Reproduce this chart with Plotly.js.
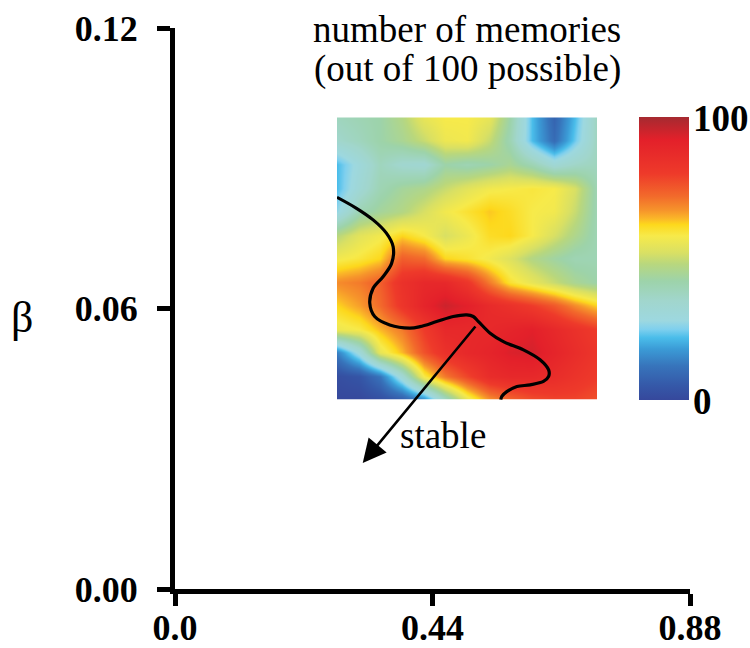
<!DOCTYPE html>
<html><head><meta charset="utf-8">
<script src="https://cdn.plot.ly/plotly-3.0.1.min.js"></script>
<style>html,body{margin:0;padding:0;background:#fff}#chart{width:750px;height:648px}</style>
</head><body><div id="chart"></div>
<script>
// main axes ticks
const xTickVals = [0, 0.44, 0.88];
const xTickText = ['0.0', '0.44', '0.88'];
const yTickVals = [0, 0.06, 0.12];
const yTickText = ['0.00', '0.06', '0.12'];

// inset heatmap grid (u: left->right, v: top->bottom, both 0..1)
const gridU = [0, 0.083, 0.167, 0.25, 0.333, 0.417, 0.5, 0.583, 0.667, 0.75, 0.833, 0.917, 1];
const gridV = [0, 0.083, 0.167, 0.25, 0.333, 0.417, 0.5, 0.583, 0.667, 0.75, 0.833, 0.917, 1];
const memories = [
  [38, 40, 42, 47, 55, 58, 58, 55, 42, 22, 8, 22, 38],
  [35, 38, 42, 45, 50, 56, 57, 50, 40, 22, 10, 24, 38],
  [22, 30, 38, 34, 33, 42, 40, 42, 45, 40, 32, 36, 38],
  [22, 32, 40, 44, 46, 50, 54, 57, 58, 59, 58, 52, 40],
  [27, 40, 44, 47, 52, 57, 60, 63, 61, 58, 57, 50, 40],
  [48, 54, 57, 62, 58, 52, 56, 61, 62, 58, 52, 46, 40],
  [57, 59, 62, 74, 72, 62, 60, 57, 53, 47, 43, 40, 40],
  [68, 70, 74, 84, 88, 88, 82, 70, 60, 55, 50, 45, 42],
  [62, 66, 72, 82, 90, 95, 92, 87, 84, 80, 75, 68, 62],
  [56, 58, 64, 70, 80, 88, 88, 88, 90, 92, 88, 84, 80],
  [14, 30, 55, 64, 76, 84, 88, 90, 93, 94, 90, 86, 82],
  [2, 4, 12, 32, 58, 70, 78, 86, 88, 88, 86, 83, 80],
  [0, 0, 2, 5, 14, 35, 54, 66, 72, 76, 78, 78, 76]
];

// stability boundary (inset coordinates)
const boundaryU = [0, 0.075, 0.139, 0.190, 0.216, 0.210, 0.177, 0.139, 0.126, 0.145, 0.203, 0.280, 0.319, 0.383, 0.447, 0.499, 0.524, 0.544, 0.589, 0.640, 0.717, 0.781, 0.814, 0.814, 0.794, 0.743, 0.692, 0.653, 0.634, 0.630];
const boundaryV = [0.283, 0.322, 0.363, 0.410, 0.458, 0.517, 0.564, 0.605, 0.658, 0.705, 0.735, 0.746, 0.741, 0.723, 0.705, 0.699, 0.705, 0.723, 0.764, 0.794, 0.823, 0.858, 0.894, 0.917, 0.935, 0.947, 0.953, 0.971, 0.988, 1.0];

const colorBarMin = 0, colorBarMax = 100;
const colorBarText = ['0', '100'];

const W = 750, H = 648;
const M = {l: 175, r: 60, t: 27.5, b: 58.5, autoexpand: false};
const PW = W - M.l - M.r, PH = H - M.t - M.b;
const px = x => (x - M.l) / PW;
const py = y => (H - M.b - y) / PH;

const serif = 'Liberation Serif, Times New Roman, serif';
const boldFont = {family: serif, size: 37, weight: 'bold', color: '#000'};

const colorscale = [
  [0, '#36489c'], [0.05, '#3558a8'], [0.12, '#3774bb'], [0.18, '#3b9bd6'],
  [0.22, '#4abdea'], [0.25, '#7fd0ee'], [0.28, '#9dd8e0'], [0.35, '#a1d6cd'],
  [0.42, '#9dd3aa'], [0.48, '#b8d77e'], [0.52, '#d9e064'], [0.58, '#f7ea4a'],
  [0.62, '#fdd81c'], [0.64, '#fbb828'], [0.67, '#f6942b'], [0.72, '#f26a2b'],
  [0.80, '#ee3a2a'], [0.92, '#e3202a'], [1, '#a52a30']
];

const traces = [
  {
    type: 'scatter', mode: 'markers', x: [], y: [], xaxis: 'x', yaxis: 'y',
    hoverinfo: 'skip', showlegend: false
  },
  {
    type: 'heatmap', x: gridU, y: gridV, z: memories,
    xaxis: 'x2', yaxis: 'y2', zsmooth: 'best', zmin: colorBarMin, zmax: colorBarMax,
    colorscale: colorscale, hoverinfo: 'skip',
    colorbar: {
      x: px(639), xanchor: 'left', xref: 'paper',
      y: py(400), yanchor: 'bottom', yref: 'paper',
      len: 283, lenmode: 'pixels', thickness: 50, thicknessmode: 'pixels',
      xpad: 0, ypad: 0, outlinewidth: 0, ticks: '', showticklabels: false
    }
  },
  {
    type: 'scatter', mode: 'lines', x: boundaryU, y: boundaryV,
    xaxis: 'x2', yaxis: 'y2', line: {color: '#000', width: 3.2, shape: 'spline'},
    hoverinfo: 'skip', showlegend: false
  }
];

const layout = {
  width: W, height: H, margin: M, showlegend: false,
  paper_bgcolor: '#fff', plot_bgcolor: '#fff',
  font: {family: serif, color: '#000'},
  xaxis: {
    range: [0, 0.88], tickvals: xTickVals, ticktext: xTickText,
    showline: true, linewidth: 5, linecolor: '#000', ticks: 'outside', ticklen: 12,
    tickwidth: 5, tickcolor: '#000', showgrid: false, zeroline: false, fixedrange: true,
    ticklabelstandoff: -9,
    tickfont: {family: serif, size: 36, weight: 'bold', color: '#000'}
  },
  yaxis: {
    range: [0, 0.12], tickvals: yTickVals, ticktext: yTickText,
    showline: true, linewidth: 5, linecolor: '#000', ticks: 'outside', ticklen: 13,
    tickwidth: 5, tickcolor: '#000', showgrid: false, zeroline: false, fixedrange: true,
    ticklabelstandoff: 12,
    tickfont: {family: serif, size: 36, weight: 'bold', color: '#000'}
  },
  xaxis2: {domain: [px(337), px(597)], range: [0, 1], anchor: 'y2', visible: false, fixedrange: true},
  yaxis2: {domain: [py(400), py(117)], range: [1, 0], anchor: 'x2', visible: false, fixedrange: true},
  annotations: [
    {xref: 'paper', yref: 'paper', x: px(467), y: py(29), text: 'number of memories', showarrow: false,
     xanchor: 'center', yanchor: 'middle', font: {family: serif, size: 37, color: '#000'}},
    {xref: 'paper', yref: 'paper', x: px(467), y: py(69), text: '(out of 100 possible)', showarrow: false,
     xanchor: 'center', yanchor: 'middle', font: {family: serif, size: 37, color: '#000'}},
    {xref: 'paper', yref: 'paper', x: px(443), y: py(436), text: 'stable', showarrow: false,
     xanchor: 'center', yanchor: 'middle', font: {family: serif, size: 37, color: '#000'}},
    {xref: 'paper', yref: 'paper', x: px(22), y: py(318), text: 'β', showarrow: false,
     xanchor: 'center', yanchor: 'middle', font: {family: serif, size: 44, color: '#000'}},
    {xref: 'paper', yref: 'paper', x: px(691), y: py(118), text: colorBarText[1], showarrow: false,
     xanchor: 'left', yanchor: 'middle', font: boldFont},
    {xref: 'paper', yref: 'paper', x: px(691), y: py(402), text: colorBarText[0], showarrow: false,
     xanchor: 'left', yanchor: 'middle', font: boldFont},
    {xref: 'x2', yref: 'y2', axref: 'x2', ayref: 'y2', x: 0.099, y: 1.224, ax: 0.537, ay: 0.735,
     text: '', showarrow: true, arrowhead: 2, arrowsize: 1.8, arrowwidth: 2.6, arrowcolor: '#000'}
  ]
};

Plotly.newPlot('chart', traces, layout, {displayModeBar: false, staticPlot: true});
</script></body></html>
